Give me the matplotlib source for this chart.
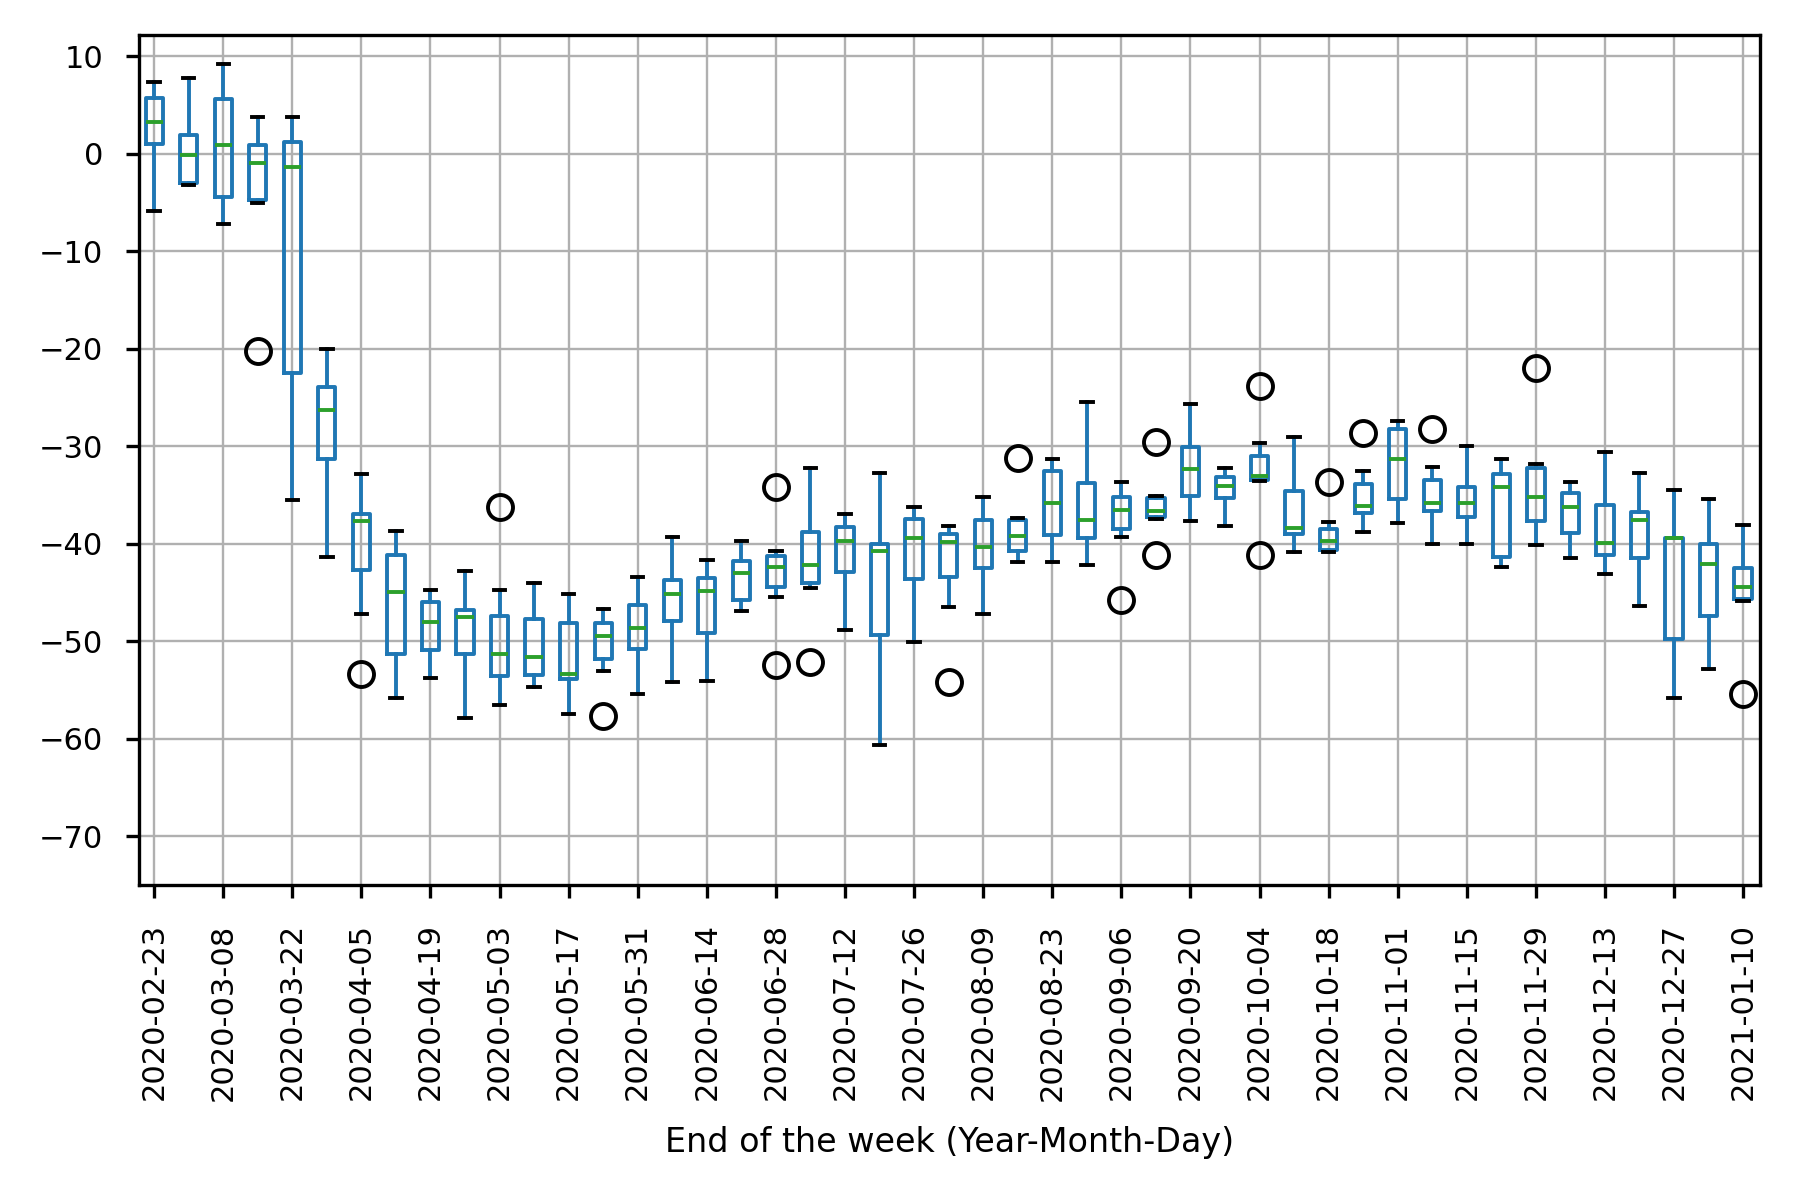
import matplotlib
matplotlib.use('Agg')
import matplotlib.pyplot as plt
import pandas as pd

#### weekly box statistics
weeks = pd.date_range('2020-02-23', '2021-01-10', freq='7D').strftime('%Y-%m-%d').tolist()

whis_hi = [7.37, 7.76, 9.25, 3.79, 3.79, -20.05, -32.82, -38.73, -44.74, -42.76,
           -44.74, -44.0, -45.19, -46.73, -43.4, -39.33, -41.66, -39.73, -40.72, -32.18,
           -36.99, -32.72, -36.25, -38.19, -35.21, -37.34, -31.33, -25.47, -33.67, -35.11,
           -25.67, -32.18, -29.69, -29.1, -37.79, -32.57, -27.41, -32.08, -29.99, -31.33,
           -31.83, -33.67, -30.64, -32.77, -34.51, -35.45, -38.09]
q3 = [5.68, 1.9, 5.63, 0.91, 1.16, -23.93, -36.94, -41.12, -45.99, -46.78,
      -47.38, -47.68, -48.12, -48.17, -46.28, -43.75, -43.55, -41.76, -41.22, -38.83,
      -38.29, -39.98, -37.49, -39.03, -37.59, -37.59, -32.57, -33.72, -35.16, -35.35,
      -30.04, -33.12, -31.03, -34.56, -38.44, -33.86, -28.25, -33.47, -34.21, -32.87,
      -32.23, -34.81, -36.05, -36.7, -39.38, -40.07, -42.46]
med = [3.29, -0.13, 0.91, -0.93, -1.33, -26.31, -37.64, -44.94, -48.02, -47.53,
       -51.35, -51.65, -53.34, -49.46, -48.67, -45.14, -44.84, -43.0, -42.41, -42.16,
       -39.73, -40.72, -39.38, -39.83, -40.32, -39.18, -35.8, -37.59, -36.55, -36.65,
       -32.32, -34.06, -33.07, -38.39, -39.73, -36.15, -31.33, -35.8, -35.8, -34.16,
       -35.21, -36.2, -39.93, -37.59, -39.38, -42.06, -44.45]
q1 = [0.96, -2.97, -4.4, -4.75, -22.44, -31.33, -42.71, -51.3, -50.85, -51.35,
      -53.54, -53.49, -53.84, -51.85, -50.75, -47.97, -49.17, -45.74, -44.4, -44.0,
      -42.86, -49.36, -43.65, -43.4, -42.51, -40.77, -39.08, -39.43, -38.44, -37.29,
      -35.06, -35.26, -33.47, -39.03, -40.67, -36.85, -35.45, -36.6, -37.24, -41.32,
      -37.69, -38.93, -41.17, -41.47, -49.76, -47.43, -45.64]
whis_lo = [-5.9, -3.16, -7.24, -5.05, -35.5, -41.32, -47.23, -55.82, -53.74, -57.91,
           -56.52, -54.73, -57.46, -53.0, -55.42, -54.18, -54.08, -46.88, -45.44, -44.5,
           -48.87, -60.64, -50.1, -46.53, -47.18, -41.91, -41.86, -42.16, -39.28, -37.44,
           -37.64, -38.19, -33.52, -40.82, -40.87, -38.78, -37.84, -40.02, -40.02, -42.41,
           -40.12, -41.47, -43.1, -46.38, -55.82, -52.84, -45.89]
outliers = {3: [-20.25], 6: [-53.34], 10: [-36.2], 13: [-57.71], 18: [-34.21, -52.44],
            19: [-52.1], 23: [-54.18], 25: [-31.23], 28: [-45.79], 29: [-29.59, -41.17],
            32: [-23.78, -41.17], 34: [-33.62], 35: [-28.6], 37: [-28.25], 40: [-21.94],
            46: [-55.42]}

stats = []
for i in range(len(weeks)):
    stats.append({'label': weeks[i], 'whislo': whis_lo[i], 'q1': q1[i], 'med': med[i],
                  'q3': q3[i], 'whishi': whis_hi[i], 'fliers': outliers.get(i, [])})

plt.rcParams['axes.linewidth'] = 1.2
plt.rcParams['xtick.major.width'] = 1.2
plt.rcParams['ytick.major.width'] = 1.2
plt.rcParams['xtick.major.size'] = 4.8
plt.rcParams['ytick.major.size'] = 4.8

fig, ax = plt.subplots(figsize=(9, 6), dpi=200)
ax.bxp(stats, positions=range(1, len(weeks) + 1), widths=0.5, capwidths=0.33,
       boxprops=dict(color='C0', linewidth=1.4), whiskerprops=dict(color='C0', linewidth=1.4),
       medianprops=dict(color='C2', linewidth=1.4), capprops=dict(color='k', linewidth=1.4),
       flierprops=dict(marker='o', markersize=9, markeredgewidth=1.4,
                       markeredgecolor='k', markerfacecolor='none'))

pos = list(range(1, len(weeks) + 1, 2))
ax.set_xticks(pos)
ax.set_xticklabels(weeks[::2], rotation=90)
ax.set_xlim(0.55, 47.5)
ax.set_ylim(-75, 12.2)
ax.set_yticks(range(-70, 11, 10))
ax.tick_params(axis='x', labelsize=11, pad=9)
ax.tick_params(axis='y', labelsize=11, pad=8)
ax.grid(True, linewidth=0.85)
ax.set_axisbelow(True)
ax.set_xlabel('End of the week (Year-Month-Day)', fontsize=12, labelpad=9)

plt.subplots_adjust(left=0.077, right=0.978, top=0.971, bottom=0.2625)
plt.savefig('out.png')
